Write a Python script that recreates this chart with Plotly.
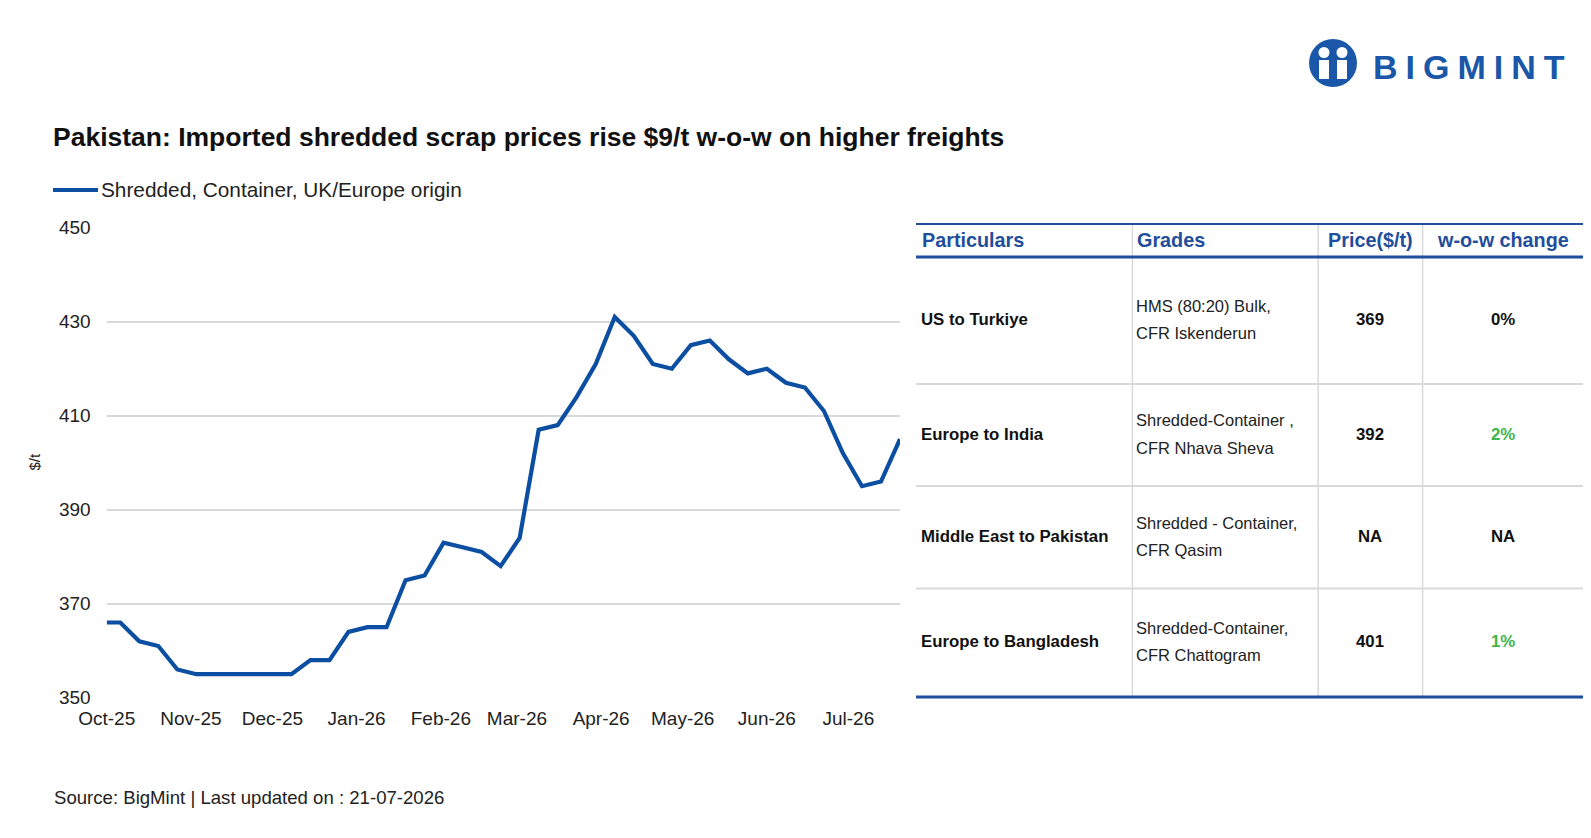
import plotly.graph_objects as go

W, H = 1591, 838

# ---------------- data ----------------
dates = ["2025-10-01", "2025-10-06", "2025-10-13", "2025-10-20", "2025-10-27",
         "2025-11-03", "2025-11-10", "2025-11-17", "2025-11-24",
         "2025-12-01", "2025-12-08", "2025-12-15", "2025-12-22", "2025-12-29",
         "2026-01-05", "2026-01-12", "2026-01-19", "2026-01-26",
         "2026-02-02", "2026-02-09", "2026-02-16", "2026-02-23",
         "2026-03-02", "2026-03-09", "2026-03-16", "2026-03-23", "2026-03-30",
         "2026-04-06", "2026-04-13", "2026-04-20", "2026-04-27",
         "2026-05-04", "2026-05-11", "2026-05-18", "2026-05-25",
         "2026-06-01", "2026-06-08", "2026-06-15", "2026-06-22", "2026-06-29",
         "2026-07-06", "2026-07-13", "2026-07-20"]
prices = [366, 366, 362, 361, 356,
          355, 355, 355, 355,
          355, 355, 358, 358, 364,
          365, 365, 375, 376,
          383, 382, 381, 378,
          384, 407, 408, 414, 421,
          431, 427, 421, 420,
          425, 426, 422, 419,
          420, 417, 416, 411, 402,
          395, 396, 405]
series_name = "Shredded, Container, UK/Europe origin"
y_ticks = [350, 370, 390, 410, 430, 450]

tbl_headers = ["Particulars", "Grades", "Price($/t)", "w-o-w change"]
tbl_particulars = ["US to Turkiye", "Europe to India", "Middle East to Pakistan", "Europe to Bangladesh"]
tbl_grades_l1 = ["HMS (80:20) Bulk,", "Shredded-Container ,", "Shredded - Container,", "Shredded-Container,"]
tbl_grades_l2 = ["CFR Iskenderun", "CFR Nhava Sheva", "CFR Qasim", "CFR Chattogram"]
tbl_price = ["369", "392", "NA", "401"]
tbl_change = ["0%", "2%", "NA", "1%"]

title = "Pakistan: Imported shredded scrap prices rise $9/t w-o-w on higher freights"
source = "Source: BigMint | Last updated on : 21-07-2026"

# ---------------- styling ----------------
FONT = "Liberation Sans, Arial, sans-serif"
BLUE = "#0b4ea2"
HDR_BLUE = "#1f4e9c"
GREEN = "#3cb54a"
GRID = "#d9d9d9"
TXT = "#222222"


def px(x):
    return x / W


def py(y):
    return 1 - y / H


plot_l, plot_r, plot_t, plot_b = 106.7, 900, 227.7, 697.7

fig = go.Figure()
fig.add_trace(go.Scatter(x=dates, y=prices, mode="lines", name=series_name,
                         line=dict(color=BLUE, width=4.2), showlegend=False))

fig.update_layout(
    width=W, height=H,
    margin=dict(l=0, r=0, t=0, b=0, pad=0, autoexpand=False),
    showlegend=False,
    paper_bgcolor="white", plot_bgcolor="white",
    font=dict(family=FONT, color=TXT),
    xaxis=dict(domain=[px(plot_l), px(plot_r)], type="date", automargin=False,
               range=[dates[0], dates[-1]], tick0="2025-10-01", dtick="M1",
               tickformat="%b-%y", showgrid=False, zeroline=False, showline=False,
               tickfont=dict(size=19, color=TXT), ticks="", ticklabelstandoff=7),
    yaxis=dict(domain=[py(plot_b), py(plot_t)], range=[350, 450], automargin=False,
               tickvals=y_ticks, showgrid=True, gridcolor=GRID, gridwidth=1.5,
               zeroline=False, showline=False, ticks="",
               tickfont=dict(size=19, color=TXT), ticklabelstandoff=15),
)

shapes = []
ann = []


def text(x, y, s, size, color=TXT, xanchor="left", **kw):
    ann.append(dict(x=px(x), y=py(y), xref="paper", yref="paper", xanchor=xanchor,
                    yanchor="middle", text=s, showarrow=False,
                    font=dict(size=size, color=color, family=FONT), **kw))


# y-axis title
text(33.5, 462, "$/t", 15, xanchor="center", textangle=-90)
# title
text(50.5, 137, "<b>" + title + "</b>", 26.5, color="#111111")
# legend
shapes.append(dict(type="line", xref="paper", yref="paper", x0=px(53), x1=px(98),
                   y0=py(190), y1=py(190), line=dict(color=BLUE, width=4)))
text(99, 190, series_name, 20.8)
# source
text(51.5, 797, source, 18.6)

# ---------------- logo ----------------
LOGO = "#1a57a8"
cx, cy, r = 1333, 63, 24
shapes.append(dict(type="circle", xref="paper", yref="paper",
                   x0=px(cx - r), x1=px(cx + r), y0=py(cy + r), y1=py(cy - r),
                   fillcolor=LOGO, line=dict(width=0)))
for dx in (-9, 9):
    shapes.append(dict(type="circle", xref="paper", yref="paper",
                       x0=px(cx + dx - 5.5), x1=px(cx + dx + 5.5), y0=py(cy - 5), y1=py(cy - 16),
                       fillcolor="white", line=dict(width=0)))
    shapes.append(dict(type="rect", xref="paper", yref="paper",
                       x0=px(cx + dx - 5), x1=px(cx + dx + 5), y0=py(cy + 16), y1=py(cy - 3),
                       fillcolor="white", line=dict(width=0)))
shapes.append(dict(type="rect", xref="paper", yref="paper",
                   x0=px(cx - 3), x1=px(cx + 3), y0=py(cy + 20), y1=py(cy - 3),
                   fillcolor=LOGO, line=dict(width=0)))
text(1371, 67, "<b><span style='letter-spacing:8px'>BIGMINT</span></b>", 34, color=LOGO)

# ---------------- table ----------------
tx0, tx1 = 916, 1583
col_x = [916, 1132.4, 1318.1, 1422.6, 1583]
top_y, hdr_y = 224, 257
row_bounds = [257, 384, 486, 588.5, 697]

for xv in col_x[1:4]:
    shapes.append(dict(type="line", xref="paper", yref="paper", x0=px(xv), x1=px(xv),
                       y0=py(top_y), y1=py(row_bounds[-1]), line=dict(color=GRID, width=1.5)))
for yv in row_bounds[1:-1]:
    shapes.append(dict(type="line", xref="paper", yref="paper", x0=px(tx0), x1=px(tx1),
                       y0=py(yv), y1=py(yv), line=dict(color=GRID, width=2)))
shapes.append(dict(type="line", xref="paper", yref="paper", x0=px(tx0), x1=px(tx1),
                   y0=py(top_y), y1=py(top_y), line=dict(color=HDR_BLUE, width=2)))
shapes.append(dict(type="line", xref="paper", yref="paper", x0=px(tx0), x1=px(tx1),
                   y0=py(hdr_y), y1=py(hdr_y), line=dict(color=HDR_BLUE, width=3)))
shapes.append(dict(type="line", xref="paper", yref="paper", x0=px(tx0), x1=px(tx1),
                   y0=py(row_bounds[-1]), y1=py(row_bounds[-1]), line=dict(color=HDR_BLUE, width=3)))

hdr_pos = [(919.5, "left"), (1135, "left"), (1370.3, "center"), (1503, "center")]
for (hx, anc), h in zip(hdr_pos, tbl_headers):
    text(hx, 240, "<b>" + h + "</b>", 19.8, color=HDR_BLUE, xanchor=anc)

for i in range(len(tbl_particulars)):
    yc = (row_bounds[i] + row_bounds[i + 1]) / 2 - 1
    text(919, yc, "<b>" + tbl_particulars[i] + "</b>", 16.8, color="#111111")
    text(1134, yc - 13.7, tbl_grades_l1[i], 16.5)
    text(1134, yc + 13.7, tbl_grades_l2[i], 16.5)
    text(1370.3, yc, "<b>" + tbl_price[i] + "</b>", 16.8, color="#111111", xanchor="center")
    ch = tbl_change[i]
    positive = ch.endswith("%") and not ch.startswith("-") and ch.strip("%") != "0"
    text(1503, yc, "<b>" + ch + "</b>", 16.8, color=GREEN if positive else "#111111",
         xanchor="center")

fig.update_layout(shapes=shapes, annotations=ann)
fig.write_html("out.html")
